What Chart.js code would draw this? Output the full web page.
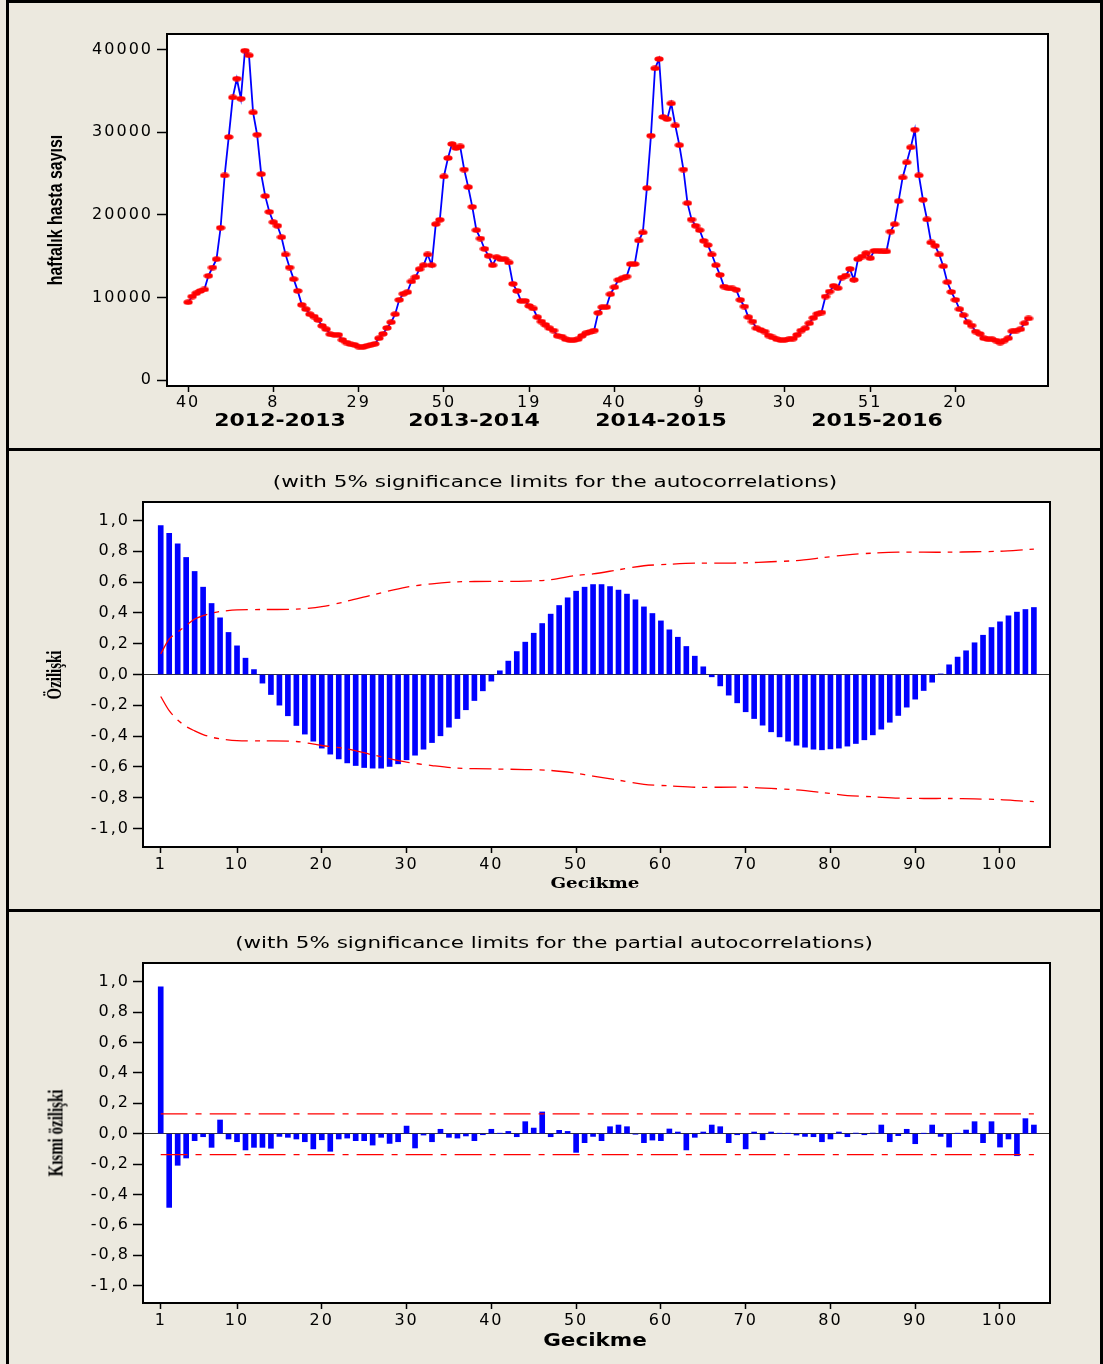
<!DOCTYPE html>
<html>
<head>
<meta charset="utf-8">
<script src="https://cdn.jsdelivr.net/npm/chart.js@4.4.1/dist/chart.umd.min.js"></script>
<style>
html, body { margin: 0; padding: 0; background: #ece9df; }
body { width: 1103px; height: 1364px; position: relative; overflow: hidden; font-family: 'DejaVu Sans', sans-serif; }
.panel { position: absolute; left: 6px; width: 1097px; box-sizing: border-box; border: 3px solid #000; }
canvas { position: absolute; }
.txt { position: absolute; white-space: nowrap; line-height: 1; color: #000; transform-origin: center; }
</style>
</head>
<body>
<div class="panel" style="top:0;height:451px"></div>
<div class="panel" style="top:448px;height:464px"></div>
<div class="panel" style="top:909px;height:458px"></div>

<canvas id="seriesChart" width="1090" height="445" style="left:9px;top:3px;width:1090px;height:445px"></canvas>
<canvas id="acfChart" width="1090" height="458" style="left:9px;top:451px;width:1090px;height:458px"></canvas>
<canvas id="pacfChart" width="1090" height="449" style="left:9px;top:912px;width:1090px;height:449px"></canvas>

<div class="txt" data-len="150" data-rot="1" style="left:55px;top:210px;font:bold 21px 'Liberation Sans',sans-serif">haftalık hasta sayısı</div>
<div class="txt" data-len="132" style="left:280px;top:419px;font:bold 18px 'DejaVu Sans',sans-serif">2012-2013</div>
<div class="txt" data-len="132" style="left:474px;top:419px;font:bold 18px 'DejaVu Sans',sans-serif">2013-2014</div>
<div class="txt" data-len="132" style="left:661px;top:419px;font:bold 18px 'DejaVu Sans',sans-serif">2014-2015</div>
<div class="txt" data-len="132" style="left:877px;top:419px;font:bold 18px 'DejaVu Sans',sans-serif">2015-2016</div>

<div class="txt" data-len="564" style="left:555px;top:481px;font:16px 'DejaVu Sans',sans-serif">(with 5% significance limits for the autocorrelations)</div>
<div class="txt" data-len="49" data-rot="1" style="left:54px;top:675px;font:bold 21px 'Liberation Serif',serif">Özilişki</div>
<div class="txt" data-len="89" style="left:595px;top:883px;font:bold 15px 'DejaVu Serif',serif">Gecikme</div>

<div class="txt" data-len="638" style="left:554px;top:942px;font:16px 'DejaVu Sans',sans-serif">(with 5% significance limits for the partial autocorrelations)</div>
<div class="txt" data-len="87" data-rot="1" style="left:56px;top:1133px;font:bold 21px 'Liberation Serif',serif">Kısmi özilişki</div>
<div class="txt" data-len="104" style="left:595px;top:1339px;font:bold 18px 'DejaVu Sans',sans-serif">Gecikme</div>

<script>
// weekly patient counts, week 40 of 2012 onwards
const weeklyCases = [
  9440, 10130, 10530, 10800, 10980, 12630, 13640, 14650, 18450, 24780,
  29430, 34230, 36490, 34070, 39880, 39320, 32410, 29710, 24940, 22280,
  20380, 19130, 18690, 17310, 15220, 13640, 12230, 10810, 9120, 8600,
  7990, 7710, 7300, 6580, 6170, 5570, 5490, 5490, 4880, 4560,
  4360, 4280, 4070, 3990, 4150, 4280, 4400, 5080, 5610, 6330,
  7020, 7990, 9730, 10460, 10660, 11950, 12470, 13440, 13920, 15220,
  13920, 18890, 19420, 24660, 26880, 28580, 28100, 28300, 25500, 23370,
  20980, 18160, 17150, 15900, 15050, 13920, 14890, 14650, 14650, 14250,
  11660, 10810, 9600, 9600, 8990, 8680, 7630, 7100, 6700, 6290,
  6010, 5370, 5290, 4960, 4840, 4840, 4960, 5370, 5690, 5850,
  6010, 8150, 8840, 8840, 10410, 11260, 12150, 12350, 12550, 14050,
  14050, 16910, 17880, 23250, 29590, 37740, 38870, 31850, 31600, 33500,
  30830, 28450, 25500, 21430, 19450, 18690, 18160, 16870, 16350, 15220,
  13920, 12750, 11340, 11140, 11100, 10940, 9730, 8920, 7630, 7100,
  6290, 6090, 5890, 5410, 5170, 4960, 4840, 4880, 4960, 5040,
  5490, 6010, 6290, 6900, 7550, 8030, 8190, 10130, 10730, 11420,
  11140, 12430, 12670, 13480, 12150, 14650, 14970, 15380, 14770, 15660,
  15660, 15580, 15580, 17990, 18880, 21670, 24540, 26360, 28180, 30320,
  24790, 21840, 19460, 16670, 16270, 15220, 13800, 11870, 10690, 9730,
  8600, 7870, 7020, 6620, 5890, 5610, 5080, 4960, 4960, 4800,
  4560, 4800, 5080, 5930, 6010, 6170, 6900, 7470
];
const weekTickIdx = [1, 22, 43, 64, 85, 106, 127, 148, 169, 190];
const weekTickLabels = ['40', '8', '29', '50', '19', '40', '9', '30', '51', '20'];
const caseTicks = [0, 10000, 20000, 30000, 40000];

// autocorrelations, lags 1..104
const acf = [
  0.967, 0.916, 0.848, 0.760, 0.669, 0.567, 0.461, 0.368, 0.273, 0.186,
  0.106, 0.032, -0.056, -0.130, -0.199, -0.268, -0.331, -0.387, -0.433, -0.478,
  -0.517, -0.548, -0.574, -0.591, -0.604, -0.608, -0.608, -0.597, -0.580, -0.554,
  -0.524, -0.485, -0.442, -0.398, -0.342, -0.286, -0.229, -0.169, -0.106, -0.043,
  0.024, 0.087, 0.149, 0.210, 0.268, 0.331, 0.392, 0.448, 0.498, 0.541,
  0.567, 0.584, 0.584, 0.571, 0.548, 0.522, 0.485, 0.439, 0.396, 0.348,
  0.290, 0.242, 0.182, 0.119, 0.050, -0.015, -0.074, -0.134, -0.184, -0.242,
  -0.286, -0.329, -0.372, -0.405, -0.433, -0.459, -0.472, -0.485, -0.489, -0.483,
  -0.478, -0.465, -0.448, -0.424, -0.392, -0.355, -0.310, -0.266, -0.212, -0.160,
  -0.104, -0.050, 0.004, 0.063, 0.113, 0.154, 0.206, 0.255, 0.305, 0.342,
  0.381, 0.405, 0.422, 0.435
];
const acfLimitLags = [1, 2, 3, 4, 5, 6, 7, 8, 10, 13, 17, 20, 23, 26, 30, 33, 36, 40, 44, 47,
  50, 52, 55, 58, 61, 64, 67, 70, 73, 76, 79, 82, 85, 88, 91, 94, 97, 100, 103, 104];
const acfUpper = [0.134, 0.23, 0.275, 0.318, 0.36, 0.383, 0.398, 0.409, 0.42, 0.422,
  0.424, 0.44, 0.476, 0.517, 0.567, 0.589, 0.602, 0.604, 0.606, 0.615,
  0.643, 0.653, 0.68, 0.706, 0.716, 0.723, 0.723, 0.725, 0.732, 0.74,
  0.758, 0.777, 0.788, 0.794, 0.794, 0.794, 0.797, 0.8, 0.81, 0.814];
const acfLower = [-0.143, -0.235, -0.295, -0.338, -0.366, -0.39, -0.407, -0.418, -0.429, -0.431,
  -0.435, -0.461, -0.483, -0.522, -0.569, -0.591, -0.608, -0.613, -0.617, -0.623,
  -0.641, -0.66, -0.686, -0.714, -0.723, -0.732, -0.732, -0.732, -0.74, -0.749,
  -0.766, -0.786, -0.794, -0.803, -0.805, -0.805, -0.808, -0.812, -0.823, -0.825];

// partial autocorrelations, lags 1..104
const pacf = [
  0.967, -0.485, -0.208, -0.160, -0.046, -0.020, -0.090, 0.090, -0.035, -0.053,
  -0.107, -0.090, -0.090, -0.096, -0.018, -0.024, -0.035, -0.053, -0.100, -0.040,
  -0.116, -0.035, -0.029, -0.046, -0.046, -0.075, -0.024, -0.064, -0.053, 0.050,
  -0.094, -0.009, -0.053, 0.029, -0.024, -0.029, -0.015, -0.046, -0.007, 0.029,
  0.002, 0.015, -0.020, 0.079, 0.037, 0.143, -0.020, 0.022, 0.015, -0.123,
  -0.059, -0.018, -0.046, 0.046, 0.057, 0.046, -0.004, -0.059, -0.042, -0.046,
  0.031, 0.011, -0.107, -0.024, 0.011, 0.057, 0.046, -0.059, -0.007, -0.100,
  0.011, -0.040, 0.011, 0.002, 0.002, -0.009, -0.018, -0.020, -0.053, -0.035,
  0.011, -0.020, 0.004, -0.007, 0.004, 0.057, -0.053, -0.013, 0.029, -0.066,
  0.002, 0.057, -0.018, -0.088, 0.002, 0.024, 0.079, -0.059, 0.079, -0.088,
  -0.035, -0.145, 0.099, 0.057
];
const pacfLimitLags = [1, 104];
const pacfUpper = [0.13, 0.13];
const pacfLower = [-0.138, -0.138];

const corrTicks = [-1, -0.8, -0.6, -0.4, -0.2, 0, 0.2, 0.4, 0.6, 0.8, 1];
const lagTicks = [1, 10, 20, 30, 40, 50, 60, 70, 80, 90, 100];

const tickFont = { family: 'DejaVu Sans', size: 16 };
const commaFmt = v => v.toFixed(1).replace('.', ',');

// white plot area, black frame, wider tick text
const plotFrame = {
  id: 'plotFrame',
  beforeDraw(chart) {
    const { ctx, chartArea: a } = chart;
    ctx.save();
    ctx.fillStyle = '#fff';
    ctx.fillRect(a.left, a.top, a.right - a.left, a.bottom - a.top);
    ctx.restore();
    ctx.letterSpacing = '2px';
  },
  afterDraw(chart) {
    const { ctx, chartArea: a } = chart;
    ctx.save();
    ctx.letterSpacing = '0px';
    ctx.strokeStyle = '#000';
    ctx.lineWidth = 2;
    ctx.strokeRect(a.left, a.top, a.right - a.left, a.bottom - a.top);
    ctx.restore();
  }
};

const dot = document.createElement('canvas');
dot.width = 10;
dot.height = 6;
const dc = dot.getContext('2d');
dc.fillStyle = '#ff0000';
dc.beginPath();
dc.ellipse(5, 3, 4.6, 2.8, 0, 0, Math.PI * 2);
dc.fill();

const common = {
  responsive: false,
  animation: false,
  devicePixelRatio: 1,
  events: [],
  plugins: { legend: { display: false }, tooltip: { enabled: false } }
};

new Chart(document.getElementById('seriesChart'), {
  type: 'line',
  data: {
    datasets: [{
      data: weeklyCases.map((v, i) => ({ x: i + 1, y: v })),
      borderColor: '#0000ff',
      borderWidth: 1.8,
      pointStyle: dot,
      pointRadius: 4,
      tension: 0
    }]
  },
  options: {
    ...common,
    layout: { padding: { top: 31, right: 51, left: 0, bottom: 0 } },
    scales: {
      x: {
        type: 'linear', min: -4.2, max: 212.8,
        afterBuildTicks: s => { s.ticks = weekTickIdx.map(v => ({ value: v })); },
        afterFit: s => { s.height = 62; },
        ticks: { font: tickFont, color: '#000', padding: 1, autoSkip: false, maxRotation: 0,
          callback: v => weekTickLabels[weekTickIdx.indexOf(v)] },
        grid: { drawOnChartArea: false, tickLength: 6, tickColor: '#000', tickWidth: 1.5 },
        border: { display: false }
      },
      y: {
        min: -700, max: 41900,
        afterBuildTicks: s => { s.ticks = caseTicks.map(v => ({ value: v })); },
        afterFit: s => { s.width = 158; },
        ticks: { font: tickFont, color: '#000', padding: 4, callback: v => String(v) },
        grid: { drawOnChartArea: false, tickLength: 10, tickColor: '#000', tickWidth: 1.5 },
        border: { display: false }
      }
    }
  },
  plugins: [plotFrame]
});

function corrChart(id, values, limLags, upper, lower, dash, yMin, yMax, xHeight) {
  const limitSet = vals => ({
    type: 'line',
    data: limLags.map((x, i) => ({ x: x, y: vals[i] })),
    borderColor: '#ff0000',
    borderWidth: 1.3,
    borderDash: dash,
    pointRadius: 0,
    tension: 0.3,
    order: 0
  });
  return new Chart(document.getElementById(id), {
    type: 'bar',
    data: {
      datasets: [
        limitSet(upper),
        limitSet(lower),
        {
          type: 'bar',
          data: values.map((v, i) => ({ x: i + 1, y: v })),
          backgroundColor: '#0000ff',
          barThickness: 5,
          order: 1
        }
      ]
    },
    options: {
      ...common,
      layout: { padding: { top: 51, right: 49, left: 0, bottom: 0 } },
      scales: {
        x: {
          type: 'linear', min: -1.09, max: 105.9, offset: false,
          afterBuildTicks: s => { s.ticks = lagTicks.map(v => ({ value: v })); },
          afterFit: s => { s.height = xHeight; },
          ticks: { font: tickFont, color: '#000', padding: 2, autoSkip: false, maxRotation: 0,
            callback: v => String(v) },
          grid: { offset: false, drawOnChartArea: false, tickLength: 6, tickColor: '#000', tickWidth: 1.5 },
          border: { display: false }
        },
        y: {
          min: yMin, max: yMax,
          afterBuildTicks: s => { s.ticks = corrTicks.map(v => ({ value: v })); },
          afterFit: s => { s.width = 134; },
          ticks: { font: tickFont, color: '#000', padding: 3, callback: v => commaFmt(v) },
          grid: {
            color: c => (c.tick && c.tick.value === 0 ? '#333' : 'rgba(0,0,0,0)'),
            lineWidth: 1,
            tickLength: 10, tickColor: '#000', tickWidth: 1.5
          },
          border: { display: false }
        }
      }
    },
    plugins: [plotFrame]
  });
}

corrChart('acfChart', acf, acfLimitLags, acfUpper, acfLower, [22, 7, 5, 7], -1.12, 1.12, 62);
corrChart('pacfChart', pacf, pacfLimitLags, pacfUpper, pacfLower, [27, 8, 6, 8], -1.114, 1.123, 58);

// squeeze or stretch the labels to the measured lengths
document.fonts.ready.then(() => {
  document.querySelectorAll('.txt').forEach(el => {
    const k = Number(el.dataset.len) / el.offsetWidth;
    const rot = el.dataset.rot ? 'rotate(-90deg) ' : '';
    el.style.transform = `translate(-50%, -50%) ${rot}scaleX(${k.toFixed(3)})`;
  });
});
</script>
</body>
</html>
